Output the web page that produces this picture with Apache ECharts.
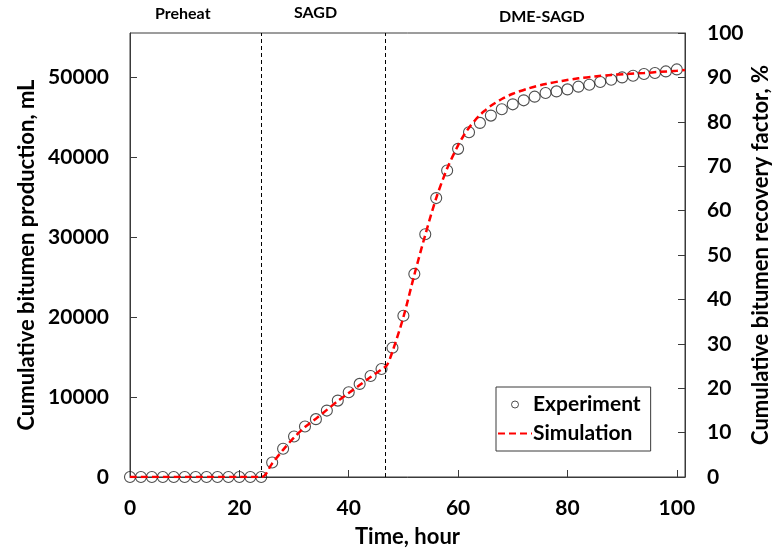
<!DOCTYPE html>
<html>
<head>
<meta charset="utf-8">
<script src="https://cdn.jsdelivr.net/npm/echarts@6/dist/echarts.min.js"></script>
<style>
  html, body { margin: 0; padding: 0; background: #fff; }
  #chart { width: 772px; height: 552px; }
</style>
</head>
<body>
<div id="chart"></div>
<script>
// Experimental cumulative bitumen production (mL), sampled every 2 hours
const expHours = [0, 2, 4, 6, 8, 10, 12, 14, 16, 18, 20, 22, 24,
  26, 28, 30, 32, 34, 36, 38, 40, 42, 44, 46,
  48, 50, 52, 54, 56, 58, 60, 62, 64, 66, 68, 70,
  72, 74, 76, 78, 80, 82, 84, 86, 88, 90, 92, 94, 96, 98, 100];
const expProduction = [0, 0, 0, 0, 0, 0, 0, 0, 0, 0, 0, 0, 0,
  1820, 3530, 5070, 6320, 7240, 8310, 9560, 10610, 11650, 12640, 13520,
  16180, 20170, 25410, 30370, 34900, 38360, 41060, 43140, 44310, 45220, 46010, 46630,
  47130, 47590, 48050, 48250, 48500, 48840, 49090, 49430, 49710, 50000, 50210, 50420, 50550, 50750, 51000];

// Simulated cumulative production (mL)
const simHours = [0, 24, 26, 28, 30, 32, 34, 36, 38, 40, 42, 44, 46, 47,
  48, 50, 52, 54, 56, 58, 60, 61, 62, 63, 64, 65, 66, 68, 70, 73, 76, 79, 82, 85, 88, 91, 94, 97, 100, 101.5];
const simProduction = [0, 0, 1700, 3400, 4950, 6250, 7300, 8400, 9500, 10500, 11500, 12500, 13450, 14000,
  15700, 20000, 25300, 30300, 34900, 38600, 41500, 42700, 43700, 44550, 45300, 45900, 46450, 47300, 47950, 48650, 49180, 49560, 49880, 50110, 50310, 50430, 50550, 50700, 50830, 50920];

// Process stage boundaries (hours) and stage names
const stageBounds = [24, 46.7];
const stageNames = ['Preheat', 'SAGD', 'DME-SAGD'];

// Axis settings: total bitumen in place equals 100 % recovery
const xTicks = [0, 20, 40, 60, 80, 100];
const totalBitumen = 55556;

const FONT = 'Lato, "Open Sans", sans-serif';
const frameColor = '#3a3a3a';

const chart = echarts.init(document.getElementById('chart'), null, { renderer: 'canvas' });

const expData = expHours.map((h, i) => [h, expProduction[i]]);
const simData = simHours.map((h, i) => [h, simProduction[i]]);

const axisText = { fontFamily: FONT, fontWeight: 'bold', fontSize: 21, color: '#000' };
const titleText = { fontFamily: FONT, fontWeight: 'bold', fontSize: 22, color: '#000' };

chart.setOption({
  animation: false,
  backgroundColor: '#fff',
  grid: {
    left: 130, right: 87, top: 33, bottom: 75,
    outerBoundsMode: 'none', containLabel: false,
    show: true, borderColor: frameColor, borderWidth: 1, backgroundColor: 'transparent'
  },
  legend: {
    orient: 'vertical',
    left: 496, top: 387,
    backgroundColor: '#fff',
    borderColor: frameColor, borderWidth: 1,
    padding: [6, 10, 6, 1],
    itemWidth: 34, itemHeight: 7, itemGap: 6,
    textStyle: { fontFamily: FONT, fontWeight: 'bold', fontSize: 21, color: '#000', lineHeight: 23, padding: [0, 0, 0, -4] },
    data: [
      { name: 'Experiment', icon: 'circle', itemStyle: { color: '#fff', borderColor: '#222', borderWidth: 1 } },
      { name: 'Simulation', itemStyle: { color: 'rgba(0,0,0,0)', borderWidth: 0, opacity: 0 } }
    ]
  },
  xAxis: {
    type: 'value', min: 0, max: 101.5, interval: 20,
    name: 'Time, hour', nameLocation: 'middle', nameGap: 49, nameMoveOverlap: false,
    nameTextStyle: titleText,
    axisLine: { show: true, lineStyle: { color: frameColor, width: 1 } },
    axisTick: { show: true, inside: true, length: 7, lineStyle: { color: frameColor } },
    axisLabel: Object.assign({ margin: 21, showMaxLabel: false,
      formatter: v => (xTicks.indexOf(v) >= 0 ? String(v) : '') }, axisText),
    splitLine: { show: false }
  },
  yAxis: [
    {
      type: 'value', min: 0, max: totalBitumen, interval: 10000, position: 'left',
      name: 'Cumulative bitumen production, mL', nameLocation: 'middle', nameGap: 92, nameMoveOverlap: false,
      nameTextStyle: titleText,
      axisLine: { show: true, lineStyle: { color: frameColor, width: 1 } },
      axisTick: { show: true, inside: true, length: 7, lineStyle: { color: frameColor } },
      axisLabel: Object.assign({ margin: 21, showMaxLabel: false, formatter: v => String(v) }, axisText),
      splitLine: { show: false }
    },
    {
      type: 'value', min: 0, max: 100, interval: 10, position: 'right',
      name: 'Cumulative bitumen recovery factor, %', nameLocation: 'middle', nameGap: 65, nameMoveOverlap: false,
      nameRotate: 90,
      nameTextStyle: titleText,
      axisLine: { show: true, lineStyle: { color: frameColor, width: 1 } },
      axisTick: { show: true, inside: true, length: 7, lineStyle: { color: frameColor } },
      axisLabel: Object.assign({ margin: 22 }, axisText),
      splitLine: { show: false }
    }
  ],
  graphic: [
    { type: 'text', left: 184 - 29, top: 6, style: { text: stageNames[0], font: 'bold 16px ' + FONT, fill: '#000' } },
    { type: 'text', left: 315 - 21, top: 5, style: { text: stageNames[1], font: 'bold 16px ' + FONT, fill: '#000' } },
    { type: 'text', left: 542 - 43, top: 9, style: { text: stageNames[2], font: 'bold 16px ' + FONT, fill: '#000' } }
  ],
  series: [
    {
      name: 'Experiment', type: 'scatter', yAxisIndex: 0,
      data: expData, symbol: 'circle', symbolSize: 11,
      itemStyle: { color: 'rgba(255,255,255,0)', borderColor: '#222', borderWidth: 1.1 },
      z: 3,
      markLine: {
        silent: true, symbol: ['none', 'none'], label: { show: false },
        lineStyle: { color: '#000', type: [4, 3], width: 1 },
        data: stageBounds.map(b => ({ xAxis: b }))
      }
    },
    {
      name: 'Simulation', type: 'line', yAxisIndex: 0,
      data: simData, showSymbol: false, symbol: 'none', smooth: 0.3,
      lineStyle: { color: '#ff0000', width: 2.5, type: [7, 4] },
      itemStyle: { color: '#ff0000' },
      z: 4
    }
  ]
});
</script>
</body>
</html>
